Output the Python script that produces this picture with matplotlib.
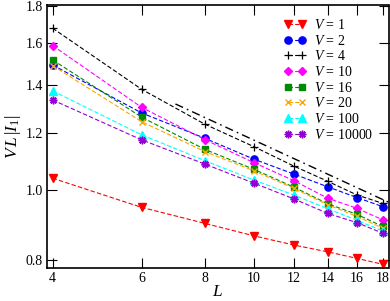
import matplotlib
matplotlib.use('Agg')
import matplotlib.pyplot as plt
from matplotlib.ticker import FixedLocator, FixedFormatter, NullLocator

plt.rcParams['font.family'] = ['Liberation Serif', 'DejaVu Serif']
plt.rcParams['mathtext.fontset'] = 'custom'
plt.rcParams['mathtext.rm'] = 'Liberation Serif'
plt.rcParams['mathtext.it'] = 'Liberation Serif:italic'

# ---- data ----
L = [4, 6, 8, 10, 12, 14, 16, 18]

v1 = [1.039, 0.947, 0.900, 0.865, 0.840, 0.822, 0.805, 0.790]
v2 = [1.490, 1.279, 1.180, 1.104, 1.053, 1.011, 0.977, 0.949]
v4 = [1.675, 1.379, 1.234, 1.149, 1.080, 1.029, 0.985, 0.959]
v10 = [1.585, 1.302, 1.175, 1.092, 1.031, 0.975, 0.944, 0.910]
v16 = [1.514, 1.262, 1.139, 1.069, 1.010, 0.958, 0.926, 0.891]
v20 = [1.487, 1.244, 1.131, 1.064, 1.006, 0.955, 0.920, 0.886]
v100 = [1.372, 1.193, 1.099, 1.033, 0.985, 0.943, 0.909, 0.878]
v10000 = [1.333, 1.174, 1.087, 1.023, 0.973, 0.929, 0.902, 0.872]

# dash-dot guide line
guide_L = [7.0, 18.45]
guide_y = [1.316, 0.963]

series = [
    ('1', v1, '#ff0000', 'v'),
    ('2', v2, '#0000ff', 'o'),
    ('4', v4, '#000000', '+'),
    ('10', v10, '#ff00ff', 'D'),
    ('16', v16, '#008b00', 's'),
    ('20', v20, '#ffa500', 'x'),
    ('100', v100, '#00ffff', '^'),
    ('10000', v10000, '#9400d3', (8, 2, 0)),
]

fig = plt.figure(figsize=(3.9, 3.01), dpi=100)
ax = fig.add_axes([47 / 390, 32.7 / 301, 341.5 / 390, 263.6 / 301])

for name, vals, col, mk in series:
    ms = 5.2
    mew = 1.0
    if mk == '+':
        ms, mew = 6, 0.9
    elif mk == 'x':
        ms, mew = 4.5, 1.0
    elif mk == 'D':
        ms = 4.5
    elif mk == 's':
        ms = 4.5
    elif mk == (8, 2, 0):
        ms, mew = 5.5, 1.1
    ax.plot(L, vals, color=col, ls=(0, (4, 2)), lw=0.8, marker=mk,
            ms=ms, mew=mew, mec=col, mfc=col, label=r'$V$ = ' + name)

ax.plot(guide_L, guide_y, color='black', lw=1.0, ls=(0, (6, 3, 1.2, 3)))

ax.set_xscale('log')
ax.set_yscale('log')
ax.set_xlim(3.9, 18.47)
ax.set_ylim(0.78, 1.805)

ax.xaxis.set_major_locator(FixedLocator(L))
ax.xaxis.set_major_formatter(FixedFormatter([str(v) for v in L]))
ax.xaxis.set_minor_locator(NullLocator())
yt = [0.8, 1.0, 1.2, 1.4, 1.6, 1.8]
ax.yaxis.set_major_locator(FixedLocator(yt))
ax.yaxis.set_major_formatter(FixedFormatter(['%.1f' % v for v in yt]))
ax.yaxis.set_minor_locator(NullLocator())

ax.tick_params(which='both', direction='in', top=True, right=True,
               length=7, width=0.8, labelsize=10, pad=3)
for s in ax.spines.values():
    s.set_linewidth(1.2)

ax.set_xlabel(r'$L$', fontsize=12.5, labelpad=-1)
ax.set_ylabel(r'$V\,L\,|I_1|$', fontsize=12.5, labelpad=2)

ax.legend(loc='upper left', bbox_to_anchor=(284 / 390, 1 - 18 / 301),
          bbox_transform=fig.transFigure, frameon=False, fontsize=10,
          numpoints=2, handlelength=1.6, handletextpad=0.55,
          labelspacing=0.12, borderpad=0, borderaxespad=0)

fig.savefig('out.png', dpi=100)
